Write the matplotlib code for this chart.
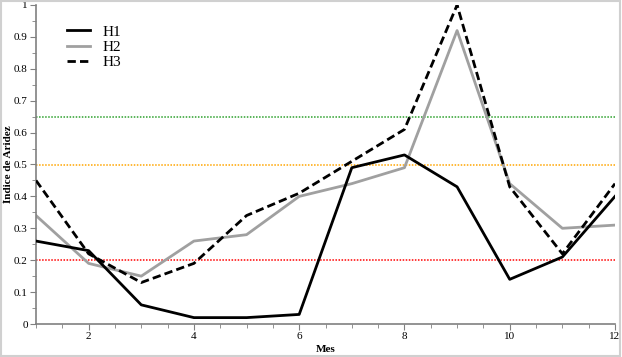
import matplotlib.pyplot as plt
from matplotlib.patches import Rectangle
from matplotlib.ticker import MultipleLocator

plt.rcParams['font.family'] = ['Liberation Serif', 'DejaVu Serif']

meses = [1, 2, 3, 4, 5, 6, 7, 8, 9, 10, 11, 12]
h1 = [0.26, 0.23, 0.06, 0.02, 0.02, 0.03, 0.49, 0.53, 0.43, 0.14, 0.21, 0.40]
h2 = [0.34, 0.19, 0.15, 0.26, 0.28, 0.40, 0.44, 0.49, 0.92, 0.44, 0.30, 0.31]
h3 = [0.45, 0.22, 0.13, 0.19, 0.34, 0.41, 0.51, 0.61, 1.00, 0.43, 0.22, 0.44]

umbrales = [0.65, 0.5, 0.2]
umbral_colores = ['#2ca02c', 'orange', 'red']

fig = plt.figure(figsize=(6.22, 3.57), dpi=100)
ax = fig.add_axes([36 / 622, 1 - 324 / 357, (615 - 36) / 622, (324 - 5) / 357])

for v, c in zip(umbrales, umbral_colores):
    ax.axhline(v, color=c, linestyle=(0, (1, 1)), linewidth=1.1, zorder=1)

ax.plot(meses, h1, color='black', linewidth=2, label='H1', zorder=3)
ax.plot(meses, h2, color='#a0a0a0', linewidth=2, label='H2', zorder=2)
ax.plot(meses, h3, color='black', linewidth=2, linestyle=(0, (3, 1.5)), label='H3', zorder=4)

ax.set_xlim(1, 12)
ax.set_ylim(0, 1)
ax.xaxis.set_major_locator(MultipleLocator(2))
ax.xaxis.set_minor_locator(MultipleLocator(0.5))
ax.yaxis.set_major_locator(MultipleLocator(0.1))
ax.yaxis.set_minor_locator(MultipleLocator(0.05))
ax.yaxis.set_major_formatter(plt.FuncFormatter(lambda v, p: '0' if v == 0 else ('1' if abs(v - 1) < 1e-9 else f'{v:.1f}')))

for s in ['top', 'right']:
    ax.spines[s].set_visible(False)
for s in ['left', 'bottom']:
    ax.spines[s].set_color('#808080')
    ax.spines[s].set_linewidth(1.2)
ax.tick_params(which='both', direction='out', colors='#808080', labelcolor='black', labelsize=8, pad=2)
ax.tick_params(which='major', length=4)
ax.tick_params(which='minor', length=3)

ax.set_xlabel('Mes', fontweight='bold', fontsize=8)
ax.set_ylabel('Índice de Aridez', fontweight='bold', fontsize=8)
# put the axis titles where the reference has them (figure pixels)
ax.xaxis.set_label_coords(0.5, -(349 - 324) / 319 , transform=ax.transAxes)
ax.xaxis.label.set_va('center')
ax.yaxis.set_label_coords(-(36 - 9) / 579, 0.5, transform=ax.transAxes)
ax.yaxis.label.set_va('center')

ax.legend(loc='upper left', bbox_to_anchor=(0.03, 0.98), frameon=False, fontsize=11,
          handlelength=1.5, handletextpad=0.8, labelspacing=0.1)

fig.patches.append(Rectangle((0.002, 0.003), 0.995, 0.993, transform=fig.transFigure,
                             fill=False, edgecolor='#d0d0d0', linewidth=1.5))

fig.savefig('out.png', dpi=100)
